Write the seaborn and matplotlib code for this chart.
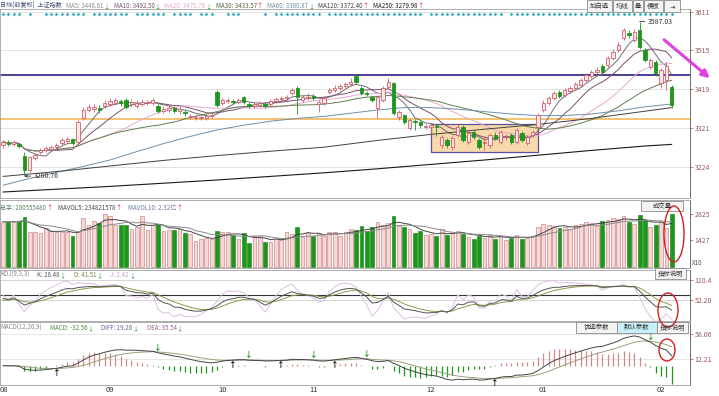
import numpy as np
import pandas as pd
import matplotlib
matplotlib.use("Agg")
import matplotlib.pyplot as plt
import seaborn as sns
from matplotlib.patches import Rectangle, Ellipse, FancyArrowPatch

# ------------------------------------------------------------------ data
opens = [3278.5, 3283.5, 3281, 3281, 3250, 3216, 3246, 3261, 3266, 3268.5,
         3273.5, 3283.5, 3288.5, 3293.5, 3286, 3346, 3366, 3368.5, 3371, 3376,
         3381, 3383.5, 3388.5, 3391, 3381, 3376, 3381, 3383.5, 3383.5, 3376,
         3363.5, 3366, 3371, 3363.5, 3361, 3348.5, 3346, 3346, 3346, 3351,
         3411, 3383.5, 3388.5, 3388.5, 3386, 3398.5, 3381, 3376, 3378.5, 3381,
         3381, 3388.5, 3393.5, 3396, 3408.5, 3421, 3391, 3396, 3401, 3381,
         3383.5, 3411, 3416, 3421, 3426, 3431, 3451, 3421, 3408.5, 3398.5,
         3371, 3391, 3423.5, 3433.5, 3348.5, 3353.5, 3321, 3338.5, 3336, 3323.5,
         3323.5, 3326, 3278.5, 3291, 3273.5, 3303.5, 3323.5, 3286, 3311, 3291,
         3283.5, 3278.5, 3303.5, 3286, 3298.5, 3303.5, 3286, 3308.5, 3283.5, 3303.5,
         3323.5, 3366, 3383.5, 3396, 3411, 3403.5, 3413.5, 3421, 3428.5, 3441,
         3451, 3461, 3476, 3478.5, 3496, 3516, 3546, 3558.5, 3541, 3566,
         3516, 3473.5, 3486, 3433.5, 3441, 3423.5]
closes = [3286, 3281, 3286, 3276, 3216, 3248.5, 3253.5, 3266, 3271, 3273.5,
          3278.5, 3291, 3293.5, 3283.5, 3336, 3366, 3373.5, 3373.5, 3366, 3383.5,
          3388.5, 3391, 3383.5, 3373.5, 3386, 3383.5, 3386, 3386, 3391, 3363.5,
          3368.5, 3371, 3363.5, 3368.5, 3358.5, 3351, 3348.5, 3348.5, 3351, 3353.5,
          3378.5, 3391, 3391, 3386, 3391, 3386, 3376, 3381, 3383.5, 3376,
          3388.5, 3393.5, 3396, 3398.5, 3416, 3398.5, 3398.5, 3398.5, 3396, 3386,
          3396, 3416, 3421, 3426, 3431, 3436, 3436, 3408.5, 3406, 3391,
          3398.5, 3421, 3436, 3358.5, 3361, 3336, 3341, 3336, 3328.5, 3326,
          3328.5, 3323.5, 3298.5, 3278.5, 3296, 3323.5, 3291, 3308.5, 3298.5, 3273.5,
          3286, 3303.5, 3296, 3311, 3299.5, 3286, 3316, 3291, 3298.5, 3311,
          3353.5, 3383.5, 3396, 3408.5, 3401, 3416, 3421, 3431, 3441, 3453.5,
          3461, 3466, 3461, 3496, 3511, 3528.5, 3566, 3553.5, 3561, 3523.5,
          3491, 3491, 3458.5, 3466, 3476, 3378.5]
highs = [3292, 3290, 3291, 3284, 3262, 3252, 3258, 3270, 3276, 3279,
         3284, 3296, 3299, 3297, 3340, 3374, 3381, 3380, 3378, 3390,
         3395, 3397, 3394, 3395, 3393, 3390, 3394, 3391, 3397, 3380,
         3375, 3378, 3376, 3376, 3366, 3357, 3354, 3353, 3356, 3360,
         3415, 3397, 3397, 3394, 3397, 3402, 3386, 3387, 3389, 3386,
         3394, 3399, 3402, 3404, 3422, 3425, 3404, 3408, 3406, 3392,
         3401, 3421, 3428, 3432, 3437, 3446, 3455, 3425, 3414, 3402,
         3403, 3425, 3446, 3437, 3367, 3357, 3346, 3344, 3341, 3331,
         3334, 3330, 3303, 3295, 3301, 3330, 3328, 3313, 3316, 3295,
         3300, 3308, 3310, 3316, 3306, 3308, 3321, 3313, 3304, 3317,
         3358, 3390, 3402, 3414, 3416, 3421, 3427, 3437, 3447, 3459,
         3467, 3473, 3481, 3502, 3518, 3536, 3572, 3565, 3568, 3587.03,
         3520, 3497, 3492, 3472, 3486, 3428]
lows = [3272, 3276, 3277, 3270, 3200.76, 3210, 3240, 3255, 3260, 3264,
        3268, 3279, 3283, 3279, 3282, 3342, 3360, 3362, 3358, 3370,
        3375, 3378, 3377, 3368, 3374, 3370, 3375, 3378, 3378, 3358,
        3358, 3360, 3358, 3357, 3352, 3343, 3340, 3341, 3341, 3346,
        3374, 3378, 3383, 3380, 3380, 3380, 3370, 3371, 3373, 3371,
        3376, 3383, 3388, 3390, 3403, 3355, 3385, 3390, 3390, 3360,
        3378, 3405, 3410, 3415, 3420, 3425, 3430, 3403, 3400, 3385,
        3345, 3386, 3418, 3353, 3341, 3330, 3316, 3315, 3322, 3318,
        3305, 3300, 3270, 3270, 3266, 3298, 3286, 3280, 3293, 3268,
        3266, 3272, 3290, 3280, 3291, 3280, 3280, 3285, 3278, 3298,
        3318, 3360, 3378, 3390, 3395, 3398, 3408, 3415, 3423, 3436,
        3446, 3455, 3455, 3473, 3490, 3510, 3540, 3546, 3535, 3518,
        3485, 3468, 3452, 3420, 3416, 3372]
volumes = [2411, 2411, 2411, 2466, 2645, 1874, 1838, 1784, 2053, 1910,
           1874, 1874, 1874, 1659, 1874, 2592, 2233, 2466, 2358, 2807,
           2735, 2233, 2233, 2233, 2000, 2143, 2735, 1964, 2233, 2287,
           1928, 1964, 1964, 2000, 1784, 1731, 1390, 1462, 1516, 1462,
           1928, 1838, 1838, 1695, 1462, 1784, 1246, 1641, 1641, 1336,
           1336, 1462, 1426, 1838, 1749, 2143, 1605, 1784, 1641, 1784,
           1641, 1874, 1838, 1641, 1874, 2000, 1964, 2200, 1900, 2100,
           2400, 2250, 2350, 2700, 2200, 2100, 2000, 1800, 1900, 1700,
           1750, 1650, 2000, 1700, 1800, 1900, 1750, 1600, 1500, 1650,
           1550, 1700, 1500, 1650, 1450, 1550, 1700, 1500, 1550, 1650,
           2100, 2300, 2250, 2200, 2050, 2150, 2000, 2250, 2300, 2400,
           2350, 2200, 2450, 2500, 2600, 2550, 2700, 2400, 2300, 2750,
           2500, 2100, 2250, 2400, 2050, 2805.5]

ma60_days = [0, 5, 10, 15, 20, 25, 30, 35, 40, 45, 50, 55, 60,
             65, 70, 75, 80, 85, 90, 95, 100, 105, 110, 115, 120, 125]
ma60_vals = [3178, 3195, 3210, 3225, 3241, 3262, 3282, 3300, 3316, 3328, 3338, 3345, 3350,
             3358, 3366, 3372, 3372, 3368, 3362, 3356, 3352, 3352, 3356, 3364, 3374, 3381]
ma_long_days = [0, 10, 20, 30, 40, 50, 60, 70, 80, 90, 100, 110, 120, 125]
ma120_vals = [3200, 3212, 3226, 3240, 3252, 3263, 3273, 3290, 3305, 3318, 3330, 3345, 3363, 3372]
ma250_vals = [3161, 3168, 3175, 3183, 3191, 3200, 3209, 3219, 3230, 3241, 3253, 3265, 3276, 3280]

signal_runs = [(0, 3), (5, 5), (8, 15), (17, 23), (25, 30), (32, 35), (37, 39),
               (42, 44), (49, 49), (51, 59), (61, 78), (80, 93), (95, 125)]

month_days = [0, 20, 41, 58, 80, 101, 123]
month_labels = ["08", "09", "10", "11", "12", "01", "02"]
price_ticks = ["3611", "3515", "3419", "3321", "3224"]
vol_ticks = ["2825", "1427"]
kdj_ticks = ["110.4", "52.20"]
macd_ticks = ["58.06", "12.21"]
kdj_ref_level = 66.8
resistance = 3453.5
support = 3343.5
box_days = (80, 100)
box_prices = (3261, 3331)
high_mark = 3587.03
low_mark = 3200.76

# ------------------------------------------------------------------ style
sns.set_theme(style="white")
plt.rcParams["font.family"] = ["Noto Sans CJK SC", "DejaVu Sans"]
plt.rcParams["axes.unicode_minus"] = False

W, H = 719, 396
fig = plt.figure(figsize=(W / 100, H / 100), dpi=100)
fig.patch.set_facecolor("white")


def fx(px):
    return px / W


def fy(py):
    return 1 - py / H


AX_R = 690
STEP = 5.35
XMIN = -3 / STEP
XMAX = XMIN + AX_R / STEP
GREEN = "#1e961e"
RED = "#d02020"
TICKC = "#9a5a5a"

n = len(closes)
days = np.arange(n)
o = np.array(opens, float)
c = np.array(closes, float)
hi = np.array(highs, float)
lo = np.array(lows, float)
vol = np.array(volumes, float)
up = c >= o


def panel(top, bottom, ylim, ticks):
    ax = fig.add_axes([0, fy(bottom), AX_R / W, (bottom - top) / H])
    ax.set_facecolor("white")
    ax.set_ylim(*ylim)
    ax.set_xticks([])
    ax.yaxis.tick_right()
    ax.set_yticks([float(t) for t in ticks])
    ax.set_yticklabels(ticks)
    ax.tick_params(axis="y", labelsize=5, colors=TICKC, length=2, width=0.5, pad=1.5, right=True)
    for s in ax.spines.values():
        s.set_color("#a0a0a0")
        s.set_linewidth(0.6)
    ax.spines["right"].set_color("#555555")
    return ax


def line(ax, x, y, color, lw=0.7, z=3):
    sns.lineplot(x=np.asarray(x, float), y=np.asarray(y, float), ax=ax, color=color,
                 linewidth=lw, legend=False, errorbar=None, zorder=z)


# ---------------------------------------------------------------- main panel
ax = panel(9, 198, (3641 - 2.5 * 198, 3641 - 2.5 * 9), price_ticks)
for t in price_ticks:
    ax.axhline(float(t), color="#dddddd", lw=0.6, zorder=0)
ax.add_patch(Rectangle((box_days[0], box_prices[0]), box_days[1] - box_days[0],
                       box_prices[1] - box_prices[0], facecolor="#f9d9ab",
                       edgecolor="#5a50a0", lw=0.9, zorder=1))
ax.axhline(resistance, color="#4b3d8f", lw=1.4, zorder=2)
ax.axhline(support, color="#f2b24c", lw=1.1, zorder=2)

cs = pd.Series(c)
line(ax, days, cs.rolling(5, min_periods=1).mean(), "#707070", 0.7)
line(ax, days, cs.rolling(10, min_periods=1).mean(), "#7b4f70", 0.7)
line(ax, days, cs.rolling(20, min_periods=1).mean(), "#e8a8d0", 0.7)
line(ax, days, cs.rolling(30, min_periods=1).mean(), "#5f7f4f", 0.7)
line(ax, ma60_days, ma60_vals, "#6f8fa8", 0.7)
line(ax, ma_long_days, ma120_vals, "#404040", 0.7)
line(ax, ma_long_days, ma250_vals, "#1a1a1a", 0.8)

up_face, up_edge = "#fde6e6", "#cf5f6f"
wick_cols = [up_edge if u else GREEN for u in up]
ax.vlines(days, lo, hi, colors=wick_cols, lw=0.6, zorder=4)
ax.bar(days, np.maximum(np.abs(c - o), 0.8), bottom=np.minimum(o, c), width=0.62,
       color=[up_face if u else GREEN for u in up],
       edgecolor=[up_edge if u else GREEN for u in up], linewidth=0.6, zorder=5)

sig_days = [d for a, b in signal_runs for d in range(a, b + 1)]
ax.scatter(sig_days, [0.973] * len(sig_days), marker="D", s=3.5, color="#3ab0c8",
           transform=ax.get_xaxis_transform(), zorder=6, linewidths=0)

hi_i = int(np.argmax(hi))
lo_i = int(np.argmin(lo))
ax.annotate(f"{high_mark:.2f}", xy=(hi_i, high_mark), xytext=(6, 0), textcoords="offset points",
            fontsize=5, color="#333333", va="center",
            arrowprops=dict(arrowstyle="-", lw=0.6, color="#333333", shrinkA=0, shrinkB=0))
ax.annotate(f"{low_mark:.2f}", xy=(lo_i, low_mark), xytext=(7, 0), textcoords="offset points",
            fontsize=5, color="#333333", va="center",
            arrowprops=dict(arrowstyle="->", lw=0.6, color="#333333", mutation_scale=4,
                            shrinkA=0, shrinkB=0))
ax.set_xlim(XMIN, XMAX)
ax.set_ylim(3641 - 2.5 * 198, 3641 - 2.5 * 9)

# ---------------------------------------------------------------- volume panel
axv = panel(200, 268, ((266.5 - 268) * 53.8, (266.5 - 200) * 53.8), vol_ticks)
axv.bar(days, vol, width=0.7,
        color=["#f6d6d6" if u else GREEN for u in up],
        edgecolor=["#d08a8a" if u else GREEN for u in up], linewidth=0.5, zorder=2)
vs = pd.Series(vol)
line(axv, days, vs.rolling(5, min_periods=1).mean(), "#444444", 0.7)
line(axv, days, vs.rolling(10, min_periods=1).mean(), "#8a8a8a", 0.7)
axv.set_xlim(XMIN, XMAX)
axv.set_ylim((266.5 - 268) * 53.8, (266.5 - 200) * 53.8)

# ---------------------------------------------------------------- KDJ panel
low9 = pd.Series(lo).rolling(9, min_periods=1).min().values
high9 = pd.Series(hi).rolling(9, min_periods=1).max().values
rsv = (c - low9) / np.where(high9 - low9 == 0, 1, high9 - low9) * 100
K = np.zeros(n)
D = np.zeros(n)
k_prev, d_prev = 50.0, 50.0
for i in range(n):
    k_prev = 2 / 3 * k_prev + rsv[i] / 3
    d_prev = 2 / 3 * d_prev + k_prev / 3
    K[i], D[i] = k_prev, d_prev
J = 3 * K - 2 * D
kdj_lim = (52.2 - 21 * 2.91, 52.2 + 30 * 2.91)
axk = panel(270, 321, kdj_lim, kdj_ticks)
for t in kdj_ticks:
    axk.axhline(float(t), color="#cfcfcf", lw=0.6, zorder=0)
axk.axhline(kdj_ref_level, color="#333333", lw=0.8, zorder=1)
line(axk, days, J, "#dcbfe0", 0.7)
line(axk, days, D, "#8a9a4a", 0.7)
line(axk, days, K, "#555555", 0.7)
axk.set_xlim(XMIN, XMAX)
axk.set_ylim(*kdj_lim)

# ---------------------------------------------------------------- MACD panel
ema12 = cs.ewm(span=12, adjust=False).mean()
ema26 = cs.ewm(span=26, adjust=False).mean()
diff = (ema12 - ema26).values
dea = pd.Series(diff).ewm(span=9, adjust=False).mean().values
macd = 2 * (diff - dea)
macd_lim = (12.21 - 26 * 1.834, 12.21 + 37 * 1.834)
axm = panel(322, 385, macd_lim, macd_ticks)
for t in macd_ticks:
    axm.axhline(float(t), color="#e2e2e2", lw=0.6, zorder=0)
axm.vlines(days, 0, macd, colors=["#d08a8a" if m >= 0 else GREEN for m in macd], lw=0.9, zorder=2)
line(axm, days, dea, "#9aa07a", 0.7)
line(axm, days, diff, "#444444", 0.7)
for i in range(4, n):
    if diff[i - 1] <= dea[i - 1] and diff[i] > dea[i]:
        axm.text(i, diff[i], "↑", color="#111111", fontsize=5.5, ha="center", va="top",
                 fontweight="bold", zorder=4)
    elif diff[i - 1] >= dea[i - 1] and diff[i] < dea[i]:
        axm.text(i, diff[i], "↓", color=GREEN, fontsize=5.5, ha="center", va="bottom",
                 fontweight="bold", zorder=4)
axm.set_xlim(XMIN, XMAX)
axm.set_ylim(*macd_lim)
for k, (d, lab) in enumerate(zip(month_days, month_labels)):
    axm.text(XMIN if k == 0 else d, -5 / 63, lab, transform=axm.get_xaxis_transform(),
             fontsize=5.5, color="#333333", ha="left" if k == 0 else "center", va="center",
             clip_on=False)

# ---------------------------------------------------------------- headers
renderer = fig.canvas.get_renderer()


def chain(x_px, y_px, groups, size=4.4, gap=4):
    """Lay out coloured text segments left to right on a common line."""
    x = x_px
    for parts in groups:
        for s, col in parts:
            t = fig.text(fx(x), fy(y_px), s, color=col, fontsize=size, ha="left",
                         va="center_baseline")
            x += t.get_window_extent(renderer).width
        x += gap


chain(0, 5, [[("日线(前复权)  上证指数", "#3a4a6a")],
             [("MA5: 3448.61", "#8c8c8c"), ("↓", GREEN)],
             [("MA10: 3492.50", "#7b4f70"), ("↓", GREEN)],
             [("MA20: 3475.76", "#e8a8d0"), ("↓", GREEN)],
             [("MA30: 3433.57", "#4f5f3f"), ("↑", RED)],
             [("MA60: 3380.87", "#6f8fa8"), ("↓", GREEN)],
             [("MA120: 3372.40", "#404040"), ("↑", RED)],
             [("MA250: 3279.98", "#1a1a1a"), ("↑", RED)]])

chain(0, 207, [[("总手: 280555480", "#5a7a5a"), ("↑", RED)],
               [("MAVOL5: 234821578", "#444444"), ("↑", RED)],
               [("MAVOL10: 2.32亿", "#6a7a9a"), ("↑", RED)]], gap=6)

chain(0, 274, [[("KDJ(9,3,3)", "#888888")],
               [("K: 28.48", "#555555"), ("↓", GREEN)],
               [("D: 41.51", "#7a8a4a"), ("↓", GREEN)],
               [("J: 2.42", "#c8a0d0"), ("↓", GREEN)]], gap=8)

chain(0, 327, [[("MACD(12,26,9)", "#888888")],
               [("MACD: -32.56", "#4a8a3a"), ("↓", GREEN)],
               [("DIFF: 19.26", "#5a6a9a"), ("↓", GREEN)],
               [("DEA: 35.54", "#a05a8a"), ("↓", GREEN)]], gap=8)


def button(x0, y0, x1, y1, text, face="#f4f4f4"):
    fig.add_artist(Rectangle((fx(x0), fy(y1)), (x1 - x0) / W, (y1 - y0) / H,
                             transform=fig.transFigure, facecolor=face,
                             edgecolor="#8a8a8a", lw=0.6))
    fig.text(fx((x0 + x1) / 2), fy((y0 + y1) / 2), text, ha="center", va="center",
             fontsize=4.6, color="#333333")


button(587, 0, 612, 12, "加自选")
button(613, 0, 632, 12, "均线")
button(633, 0, 643, 12, "叠")
button(644, 0, 663, 12, "模板")
button(664, 0, 680, 12, "⇥")
button(641, 201, 683, 211, "成交量")
button(655, 268, 686, 279, "指标说明")
button(576, 322, 617, 333, "优选参数")
button(617, 322, 657, 333, "默认参数", face="#c8f0f8")
button(657, 322, 688, 333, "指标说明")
fig.text(fx(692), fy(263), "X10", fontsize=4.5, color="#555555", ha="left", va="center")

# ---------------------------------------------------------------- annotations
for cx, cy, w, h in [(674, 234, 20, 56), (668, 310, 20, 34), (667, 350, 16, 22)]:
    fig.add_artist(Ellipse((fx(cx), fy(cy)), w / W, h / H, transform=fig.transFigure,
                           fill=False, edgecolor=RED, lw=1.0))
fig.add_artist(FancyArrowPatch((fx(662), fy(38)), (fx(712), fy(80)), transform=fig.transFigure,
                               arrowstyle="-|>", mutation_scale=11, lw=2.2, color="#e040e0"))

fig.savefig("out.png", dpi=100)
